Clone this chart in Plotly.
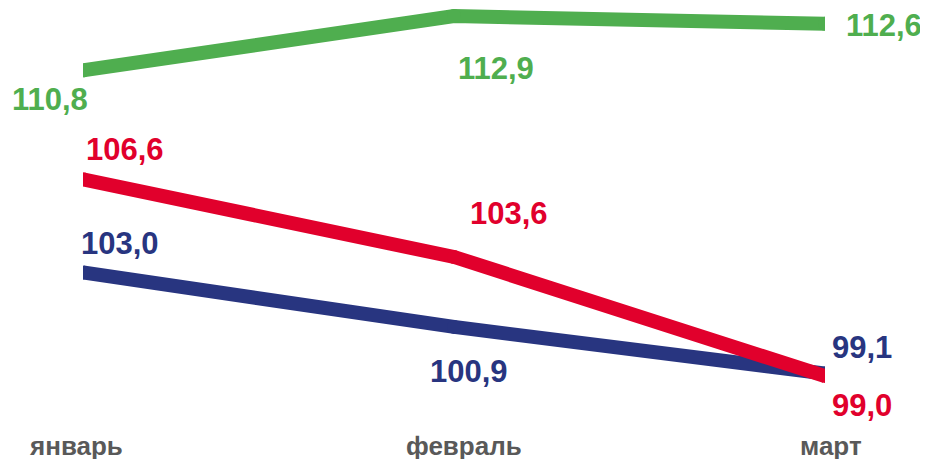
import plotly.graph_objects as go

months = ["январь", "февраль", "март"]
green_vals = [110.8, 112.9, 112.6]
red_vals = [106.6, 103.6, 99.0]
blue_vals = [103.0, 100.9, 99.1]

GREEN = "#4FAE4F"
RED = "#E1002C"
BLUE = "#283580"
GRAY = "#595959"
FONT = "Liberation Sans, Arial, sans-serif"

x = [0, 1, 2]

# label offsets in pixels (xshift, yshift) for each series point
green_off = [(-33, -29), (42, -52), (59, -2)]
red_off = [(42, 30), (55, 43), (37, -29)]
blue_off = [(37, 29), (15, -45), (37, 26)]
month_xshift = [-7, 10, 6]

fig = go.Figure()
annotations = []
for vals, color, offs in [(green_vals, GREEN, green_off),
                          (blue_vals, BLUE, blue_off),
                          (red_vals, RED, red_off)]:
    fig.add_trace(go.Scatter(
        x=x, y=vals, mode="lines+markers",
        line=dict(color=color, width=14),
        marker=dict(color=color, size=14, line=dict(width=0)),
        hoverinfo="skip", showlegend=False))
    for xi, v, (dx, dy) in zip(x, vals, offs):
        annotations.append(dict(
            x=xi, y=v, xref="x", yref="y",
            text=f"<b>{v:.1f}</b>".replace(".", ","),
            showarrow=False, xshift=dx, yshift=dy,
            xanchor="center", yanchor="middle",
            font=dict(family=FONT, size=31, color=color)))

# month (category) labels under the axis
for xi, m, dx in zip(x, months, month_xshift):
    annotations.append(dict(
        x=xi, y=0, xref="x", yref="paper",
        text=f"<b>{m}</b>", showarrow=False,
        xshift=dx, yshift=-16, xanchor="center", yanchor="middle",
        height=26, borderpad=0, valign="middle",
        font=dict(family=FONT, size=26, color=GRAY)))

# page body has an 8px default margin, so the figure is sized to fit
fig.update_layout(
    width=920, height=452,
    margin=dict(l=75, r=103, t=0, b=30),
    paper_bgcolor="white", plot_bgcolor="white",
    annotations=annotations,
    xaxis=dict(range=[0, 2], tickvals=x, showticklabels=False,
               showgrid=False, zeroline=False, showline=False, ticks=""),
    yaxis=dict(range=[96.92, 113.21], visible=False, showgrid=False,
               zeroline=False),
)

fig.write_html("out.html")
